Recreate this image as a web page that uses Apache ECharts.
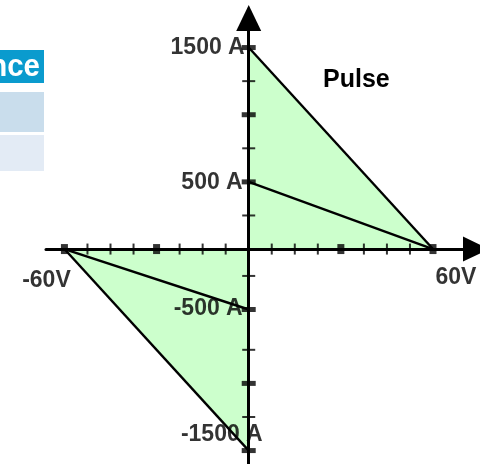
<!DOCTYPE html>
<html>
    <head>
        <meta charset="utf-8">
        <title>pulse-soa</title>
        <style>html,body{margin:0;padding:0;background:#fff}#chart{width:480px;height:464px}</style>
    </head>
    <body>
        <div id="chart"></div>
        <script type="text/javascript" src="https://fastly.jsdelivr.net/npm/echarts@6/dist/echarts.min.js"></script>
        <script>
            // 数据 (V, A)
            const upperOuter = [[0, 1500], [60, 0]];
            const upperInner = [[0, 500], [60, 0]];
            const lowerOuter = [[-60, 0], [0, -1500]];
            const lowerInner = [[-60, 0], [0, -450]];

            const xMajorTicks = [-60, -30, 30, 60];
            const xMinorTicks = [-52.5, -45, -37.5, -22.5, -15, -7.5, 7.5, 15, 22.5, 37.5, 45, 52.5];
            const yMajorTicks = [1500, 1000, 500, -450, -1000, -1500];
            const yMinorTicks = [1250, 750, 250, -200, -750, -1250];

            const xLabelValues = [-60, 60];
            const xLabelTexts = ['-60V', '60V'];
            const yLabelValues = [1500, 500, -450, -1500];
            const yLabelTexts = ['1500 A', '500 A', '-500 A', '-1500 A'];

            const font = '"Liberation Sans", Arial, sans-serif';
            const fillColor = '#ccffcc';

            const chart = echarts.init(document.getElementById('chart'));

            function lineSeries(data, area) {
                return {
                    type: 'line',
                    data: data,
                    symbol: 'none',
                    animation: false,
                    z: 2,
                    lineStyle: { color: '#000', width: 2.4 },
                    areaStyle: area ? { color: fillColor, opacity: 1 } : null
                };
            }

            function tickSeries(data, size) {
                return {
                    type: 'scatter',
                    data: data,
                    symbol: 'rect',
                    symbolSize: size,
                    itemStyle: { color: '#000' },
                    animation: false,
                    silent: true,
                    z: 10
                };
            }

            const xLabelOffsets = [[-18, 32], [23, 29]];
            const yLabelOffsets = [[-4, 0], [-6, 1], [-6, -1], [14, -16]];

            const labelData = [];
            xLabelValues.forEach((v, i) => {
                labelData.push({
                    value: [v, 0],
                    label: { formatter: xLabelTexts[i], position: 'inside', offset: xLabelOffsets[i] }
                });
            });
            yLabelValues.forEach((v, i) => {
                labelData.push({
                    value: [0, v],
                    label: { formatter: yLabelTexts[i], position: 'left', distance: 0, offset: yLabelOffsets[i] }
                });
            });

            const axisBase = {
                type: 'value',
                z: 5,
                splitLine: { show: false },
                axisTick: { show: false },
                axisLabel: { show: false },
                axisLine: {
                    onZero: true,
                    symbol: ['none', 'triangle'],
                    symbolSize: [25, 26],
                    lineStyle: { color: '#000', width: 3 }
                }
            };

            chart.setOption({
                animation: false,
                title: {
                    text: 'Pulse',
                    left: 323,
                    top: 68,
                    padding: 0,
                    textStyle: { fontFamily: font, fontWeight: 'bold', fontSize: 25, color: '#000' }
                },
                grid: { left: 46, right: 4, top: 18, bottom: 0, containLabel: false },
                xAxis: Object.assign({}, axisBase, { min: -66, max: 74 }),
                yAxis: Object.assign({}, axisBase, { min: -1600, max: 1720 }),
                graphic: [
                    { type: 'rect', shape: { x: 0, y: 50, width: 44, height: 33 }, style: { fill: '#0a9bce' } },
                    {
                        type: 'text', x: 40, y: 67, scaleX: 0.95,
                        style: { text: 'Performance', fill: '#fff', font: 'bold 31px ' + font, align: 'right', verticalAlign: 'middle' }
                    },
                    { type: 'rect', shape: { x: 0, y: 92, width: 44, height: 40 }, style: { fill: '#c9ddec' } },
                    { type: 'rect', shape: { x: 0, y: 135, width: 44, height: 36 }, style: { fill: '#e3ebf5' } }
                ],
                series: [
                    lineSeries(upperOuter, true),
                    lineSeries(lowerOuter, true),
                    lineSeries(upperInner, false),
                    lineSeries(lowerInner, false),
                    tickSeries(xMinorTicks.map(v => [v, 0]), [2, 11]),
                    tickSeries(xMajorTicks.map(v => [v, 0]), [7, 10]),
                    tickSeries(yMinorTicks.map(v => [0, v]), [13, 2]),
                    tickSeries(yMajorTicks.map(v => [0, v]), [14, 5]),
                    {
                        type: 'scatter',
                        data: labelData,
                        symbolSize: 0,
                        animation: false,
                        silent: true,
                        z: 12,
                        label: {
                            show: true,
                            fontFamily: font,
                            fontWeight: 'bold',
                            fontSize: 23,
                            color: '#000'
                        }
                    }
                ]
            });
        </script>
    </body>
</html>
